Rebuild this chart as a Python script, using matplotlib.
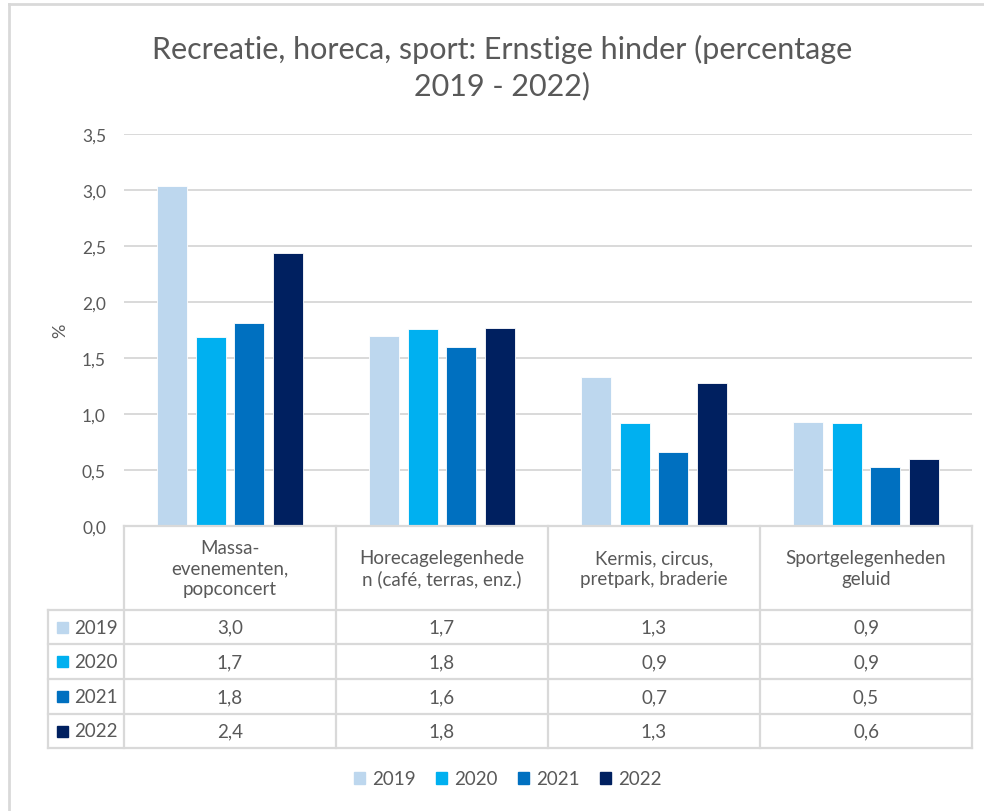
import matplotlib
matplotlib.use("Agg")
import matplotlib.pyplot as plt
from matplotlib.patches import Rectangle
import numpy as np

# ---------- Data ----------
categories = [
    "Massa-\nevenementen,\npopconcert",
    "Horecagelegenhede\nn (café, terras, enz.)",
    "Kermis, circus,\npretpark, braderie",
    "Sportgelegenheden\ngeluid",
]
years = ["2019", "2020", "2021", "2022"]
v2019 = [3.04, 1.70, 1.33, 0.93]
v2020 = [1.69, 1.76, 0.92, 0.92]
v2021 = [1.81, 1.60, 0.66, 0.53]
v2022 = [2.44, 1.77, 1.28, 0.60]
series = [v2019, v2020, v2021, v2022]
colors = ["#BDD7EE", "#00B0F0", "#0070C0", "#002060"]
yticks = [0.0, 0.5, 1.0, 1.5, 2.0, 2.5, 3.0, 3.5]

TXT = "#595959"
GRID = "#D9D9D9"
FS = 13.5
plt.rcParams["font.family"] = ["Lato", "DejaVu Sans"]

W, H = 984, 812
fig = plt.figure(figsize=(W / 100, H / 100), dpi=100)


def box(x0, y0, x1, y1):
    # pixel box (top-left origin) -> figure fraction rect
    return [x0 / W, 1 - y1 / H, (x1 - x0) / W, (y1 - y0) / H]


# outer chart frame (cropped at right/bottom)
fig.add_artist(plt.Line2D([9 / W, 1], [1 - 5 / H] * 2, color=GRID, lw=2))
fig.add_artist(plt.Line2D([9 / W] * 2, [0, 1 - 5 / H], color=GRID, lw=2))

# ---------- Bars ----------
X0, X1, YT, YB = 124, 972, 135, 527
ax = fig.add_axes(box(X0, YT, X1, YB))
x = np.arange(len(categories))
slot, bw = 0.1826, 0.142
for i, (vals, c) in enumerate(zip(series, colors)):
    ax.bar(x + (i - 1.5) * slot, vals, width=bw, color=c,
           edgecolor="white", linewidth=0.6, zorder=3)
ax.set_xlim(-0.5, len(categories) - 0.5)
ax.set_ylim(0, 3.5)
ax.set_yticks(yticks)
ax.set_yticklabels([f"{t:.1f}".replace(".", ",") for t in yticks],
                   fontsize=12.5, color=TXT)
ax.tick_params(axis="y", length=0, pad=13)
ax.set_xticks([])
ax.grid(axis="y", color=GRID, lw=1.4, zorder=0)
for s in ax.spines.values():
    s.set_visible(False)
ax.set_ylabel("%", fontsize=13, color=TXT, labelpad=10)

# ---------- Title ----------
fig.text(502 / W, 1 - 67.5 / H,
         "Recreatie, horeca, sport: Ernstige hinder (percentage\n2019 - 2022)",
         ha="center", va="center", fontsize=22, color=TXT, linespacing=1.3)

# ---------- Data table ----------
TL, TR, TT, TBm = 48, 972, 527, 749
cw = (X1 - X0) / len(categories)
row_edges = [527, 611, 645, 680, 715, 749]
lw = 1.6
# header
fig.add_artist(plt.Line2D([X0 / W, X1 / W], [1 - TT / H] * 2, color=GRID, lw=lw))
for k in range(len(categories) + 1):
    xx = X0 + k * cw
    fig.add_artist(plt.Line2D([xx / W] * 2, [1 - TT / H, 1 - TBm / H], color=GRID, lw=lw))
fig.add_artist(plt.Line2D([TL / W] * 2, [1 - row_edges[1] / H, 1 - TBm / H], color=GRID, lw=lw))
for ye in row_edges[1:]:
    fig.add_artist(plt.Line2D([TL / W, TR / W], [1 - ye / H] * 2, color=GRID, lw=lw))

for k, cat in enumerate(categories):
    fig.text((X0 + (k + 0.5) * cw) / W, 1 - (row_edges[0] + row_edges[1]) / 2 / H,
             cat, ha="center", va="center", fontsize=FS, color=TXT, linespacing=1.25)

for r, (yr, vals, c) in enumerate(zip(years, series, colors)):
    yc = (row_edges[r + 1] + row_edges[r + 2]) / 2
    fig.add_artist(Rectangle((57 / W, 1 - (yc + 5.5) / H), 11 / W, 11 / H,
                             color=c, transform=fig.transFigure))
    fig.text(74 / W, 1 - yc / H, yr, ha="left", va="center", fontsize=FS, color=TXT)
    for k, v in enumerate(vals):
        fig.text((X0 + (k + 0.5) * cw) / W, 1 - yc / H, f"{v:.1f}".replace(".", ","),
                 ha="center", va="center", fontsize=FS, color=TXT)

# ---------- Legend ----------
handles = [Rectangle((0, 0), 1, 1, color=c) for c in colors]
fig.legend(handles, years, loc="center", bbox_to_anchor=(508 / W, 1 - 780 / H),
           ncol=4, frameon=False, fontsize=FS, handlelength=0.55, handleheight=0.55,
           handletextpad=0.4, columnspacing=1.1, labelcolor=TXT)

fig.savefig("out.png", dpi=100, facecolor="white")
